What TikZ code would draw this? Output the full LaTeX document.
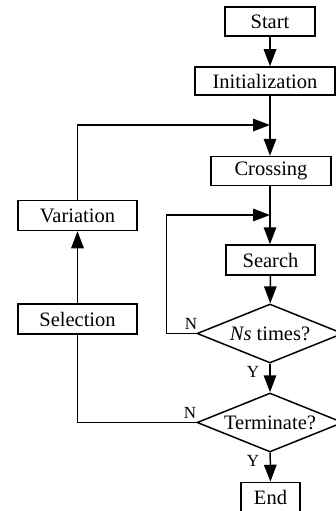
\documentclass[tikz,border=0pt]{standalone}
\usepackage{fontspec}
\setmainfont{Liberation Serif}
\usetikzlibrary{shapes.geometric,arrows.meta}
\begin{document}
\begin{tikzpicture}[x=1pt,y=-1pt,
  box/.style={draw,line width=1.5pt,inner sep=0pt,minimum height=29pt,font=\fontsize{20.5}{24}\selectfont},
  dec/.style={draw,diamond,aspect=2.47,line width=1.5pt,inner sep=0pt,minimum width=146pt,minimum height=59pt,font=\fontsize{20.5}{24}\selectfont},
  arr/.style={line width=1.5pt,-{Triangle[length=17pt,width=12.5pt]}},
  ln/.style={line width=1.5pt},
  lab/.style={font=\fontsize{17}{19}\selectfont,inner sep=0pt}]
\useasboundingbox (0,0) rectangle (336,511);
\node[box,minimum width=90pt] (start) at (270,21.5) {Start};
\node[box,minimum width=140pt,minimum height=28pt] (init) at (265,81) {Initialization};
\node[box,minimum width=120pt] (cross) at (271,171) {Crossing};
\node[box,minimum width=89pt,minimum height=30pt] (search) at (270.5,260) {Search};
\node[dec] (ns) at (270,333.5) {\textit{Ns} times?};
\node[dec] (term) at (270,422.5) {Terminate?};
\node[box,minimum width=59pt,minimum height=30pt] (end) at (270.5,497.5) {End};
\node[box,minimum width=119pt,minimum height=30pt] (var) at (77.5,215.5) {Variation};
\node[box,minimum width=119pt,minimum height=30pt] (sel) at (77.5,319) {Selection};
\coordinate (j1) at (270,125);
\coordinate (j2) at (270,215);
\draw[arr] (start) -- (start |- init.north);
\draw[arr] (start |- init.south) -- (start |- cross.north);
\draw[arr] (var.north) |- (j1);
\draw[arr] (start |- cross.south) -- (start |- search.north);
\draw[arr] (ns.west) -- ++(-30,0) |- (j2);
\draw[arr] (search) -- (ns);
\draw[arr] (ns) -- (term);
\draw[arr] (term) -- (end);
\draw[arr] (sel) -- (var);
\draw[ln] (term.west) -| (sel.south);
\node[lab] (n1) at (191,324) {N};
\node[lab] (n2) at (190,413) {N};
\node[lab] (y1) at (253,372) {Y};
\node[lab] (y2) at (253,461) {Y};
\end{tikzpicture}
\end{document}
